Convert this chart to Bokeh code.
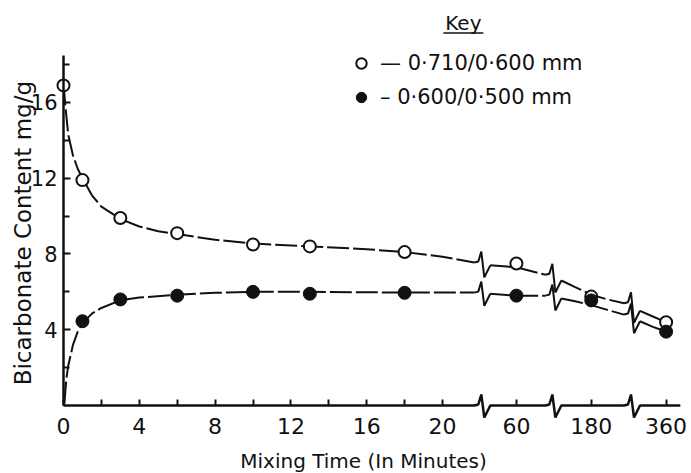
import math
from bokeh.plotting import figure
from bokeh.models import LinearAxis, FixedTicker, Label, Legend, LegendItem, Range1d
from bokeh.embed import file_html
from bokeh.resources import INLINE

# ---------------- data ----------------
# broken time axis: minutes 0-20 linear, then 60, 180, 360 at break-separated positions
early_ticks = [0, 4, 8, 12, 16, 20]
early_minor = [2, 6, 10, 14, 18]
coarse_minutes = [60, 180, 360]
coarse_pos = [23.9, 27.85, 31.8]
break_pos = [22.1, 25.85, 30.0]
y_ticks = [4, 8, 12, 16]
y_minor = [2, 6, 10, 14, 18]

open_min = [0, 1, 3, 6, 10, 13, 18, 60, 180, 360]
open_val = [16.9, 11.9, 9.9, 9.1, 8.5, 8.4, 8.1, 7.5, 5.75, 4.4]
filled_min = [1, 3, 6, 10, 13, 18, 60, 180, 360]
filled_val = [4.45, 5.6, 5.8, 6.0, 5.9, 5.95, 5.8, 5.55, 3.9]

# traced fitted curves (axis positions), one list per segment between breaks
open_curve_pos = [
    [0, 0.1, 0.25, 0.5, 0.75, 1, 1.5, 2, 3, 4, 5, 6, 8, 10, 13, 16, 18, 20, 21.68],
    [22.52, 23.9, 25.43],
    [26.27, 27.0, 27.85, 28.7, 29.58],
    [30.42, 31.1, 31.8],
]
open_curve_val = [
    [17.0, 15.8, 14.3, 13.2, 12.5, 12.0, 11.1, 10.5, 9.85, 9.45, 9.2, 9.05, 8.75, 8.55, 8.4, 8.25, 8.1, 7.85, 7.55],
    [7.4, 7.3, 6.9],
    [6.6, 6.25, 5.85, 5.6, 5.4],
    [5.0, 4.7, 4.4],
]
filled_curve_pos = [
    [0.05, 0.1, 0.15, 0.25, 0.5, 0.75, 1, 1.5, 2, 3, 4, 6, 8, 10, 13, 16, 18, 20, 21.68],
    [22.52, 23.9, 25.43],
    [26.27, 27.0, 27.85, 28.7, 29.58],
    [30.42, 31.1, 31.8],
]
filled_curve_val = [
    [0.1, 0.8, 1.4, 2.1, 3.2, 3.9, 4.35, 4.85, 5.15, 5.55, 5.7, 5.85, 5.95, 6.0, 6.0, 5.98, 5.96, 5.96, 5.96],
    [5.9, 5.8, 5.8],
    [5.65, 5.5, 5.3, 5.05, 4.8],
    [4.45, 4.15, 3.9],
]

# ---------------- layout constants ----------------
W, H = 691, 473
PX_X = 18.95   # px per axis unit (x)
PX_Y = 18.94   # px per value unit (y)
X0_PX, Y0_PX = 63, 405
x_start = -X0_PX / PX_X
x_end = x_start + W / PX_X
y_end = Y0_PX / PX_Y
y_start = y_end - H / PX_Y
X_AXIS_END = 32.55
Y_AXIS_TOP = 18.5
INK = "#111111"
FONT = "DejaVu Sans"

# zigzag break symbol offsets in px (dx, dy; dy negative = up)
ZIG = [(-8, 0), (-4, -1), (-1, -11), (2, 12), (8, 0)]


def to_pos(m):
    if m <= 20:
        return m
    return coarse_pos[coarse_minutes.index(m)]


def zigzag(xb, yl, yr):
    xs, ys = [], []
    for i, (dx, dy) in enumerate(ZIG):
        base = yl if i <= 2 else yr
        xs.append(xb + dx / PX_X)
        ys.append(base - dy / PX_Y)
    return xs, ys


p = figure(width=W, height=H, output_backend="svg", toolbar_location=None,
           x_range=Range1d(x_start, x_end), y_range=Range1d(y_start, y_end),
           x_axis_location=None, y_axis_location=None, min_border=0,
           outline_line_color=None, background_fill_color="white",
           border_fill_color="white")
p.xgrid.visible = False
p.ygrid.visible = False

# axes (library axes, fixed at the origin)
yax = LinearAxis(fixed_location=0, bounds=(0, Y_AXIS_TOP),
                 ticker=FixedTicker(ticks=y_ticks, minor_ticks=y_minor))
yax.axis_line_width = 2.5
yax.axis_line_color = INK
yax.major_tick_in = 7
yax.major_tick_out = 0
yax.minor_tick_in = 6
yax.minor_tick_out = 0
yax.major_tick_line_width = 2
yax.minor_tick_line_width = 2
yax.major_tick_line_color = INK
yax.minor_tick_line_color = INK
yax.major_label_standoff = 6
yax.major_label_text_font = FONT
yax.major_label_text_font_size = "21px"
yax.major_label_text_color = INK
p.add_layout(yax, "left")

x_ticks = early_ticks + coarse_pos
x_labels = {t: str(t) for t in early_ticks}
for m, ps in zip(coarse_minutes, coarse_pos):
    x_labels[ps] = str(m)
xax = LinearAxis(fixed_location=0, bounds=(0, X_AXIS_END),
                 ticker=FixedTicker(ticks=x_ticks, minor_ticks=early_minor),
                 major_label_overrides=x_labels)
xax.axis_line_color = None
xax.major_tick_in = 6
xax.major_tick_out = 0
xax.minor_tick_in = 6
xax.minor_tick_out = 0
xax.major_tick_line_width = 2
xax.minor_tick_line_width = 2
xax.major_tick_line_color = INK
xax.minor_tick_line_color = INK
xax.major_label_standoff = 12
xax.major_label_text_font = FONT
xax.major_label_text_font_size = "22px"
xax.major_label_text_color = INK
p.add_layout(xax, "below")

# x axis line with break marks
ax_x, ax_y = [0.0], [0.0]
for b in break_pos:
    zx, zy = zigzag(b, 0.0, 0.0)
    ax_x += zx
    ax_y += zy
ax_x.append(X_AXIS_END)
ax_y.append(0.0)
p.line(ax_x, ax_y, line_width=2.5, line_color=INK)

# fitted curves (dashed) + break marks
for cpos, cval in ((open_curve_pos, open_curve_val), (filled_curve_pos, filled_curve_val)):
    for sx, sy in zip(cpos, cval):
        p.line(sx, sy, line_width=2, line_color=INK, line_dash="22 4")
    for i, b in enumerate(break_pos):
        zx, zy = zigzag(b, cval[i][-1], cval[i + 1][0])
        p.line(zx, zy, line_width=2, line_color=INK)

# data points
r_open = p.scatter([to_pos(m) for m in open_min], open_val, size=12, marker="circle",
                   line_color=INK, line_width=2, fill_color="white")
r_filled = p.scatter([to_pos(m) for m in filled_min], filled_val, size=13, marker="circle",
                     line_color=INK, line_width=1, fill_color=INK)

# axis titles
p.add_layout(Label(x=-2.16, y=9.1, text="Bicarbonate Content mg/g", angle=math.pi / 2,
                   text_align="center", text_baseline="middle", text_font=FONT,
                   text_font_size="23px", text_color=INK))
p.add_layout(Label(x=16.0, y=-2.95, text="Mixing Time  (In Minutes)",
                   text_align="center", text_baseline="middle", text_font=FONT,
                   text_font_size="20px", text_color=INK))

# key
KEY_X, KEY_Y = 21.1, 20.2
p.add_layout(Label(x=KEY_X, y=KEY_Y, text="Key", text_align="center", text_baseline="middle",
                   text_font=FONT, text_font_size="20px", text_color=INK))
half_w = 20 / PX_X
p.segment(x0=[KEY_X - half_w], y0=[KEY_Y - 10 / PX_Y], x1=[KEY_X + half_w], y1=[KEY_Y - 10 / PX_Y],
          line_width=1.5, line_color=INK)

legend = Legend(items=[LegendItem(label="— 0·710/0·600 mm", renderers=[r_open]),
                       LegendItem(label="– 0·600/0·500 mm", renderers=[r_filled])],
                location=(348, 363), glyph_width=26, glyph_height=26, label_height=26,
                spacing=8, padding=0, margin=0, border_line_color=None,
                background_fill_alpha=0, label_text_font=FONT, label_text_font_size="21px",
                label_text_color=INK, label_standoff=6)
p.add_layout(legend)

open("out.html", "w").write(file_html(p, INLINE))
